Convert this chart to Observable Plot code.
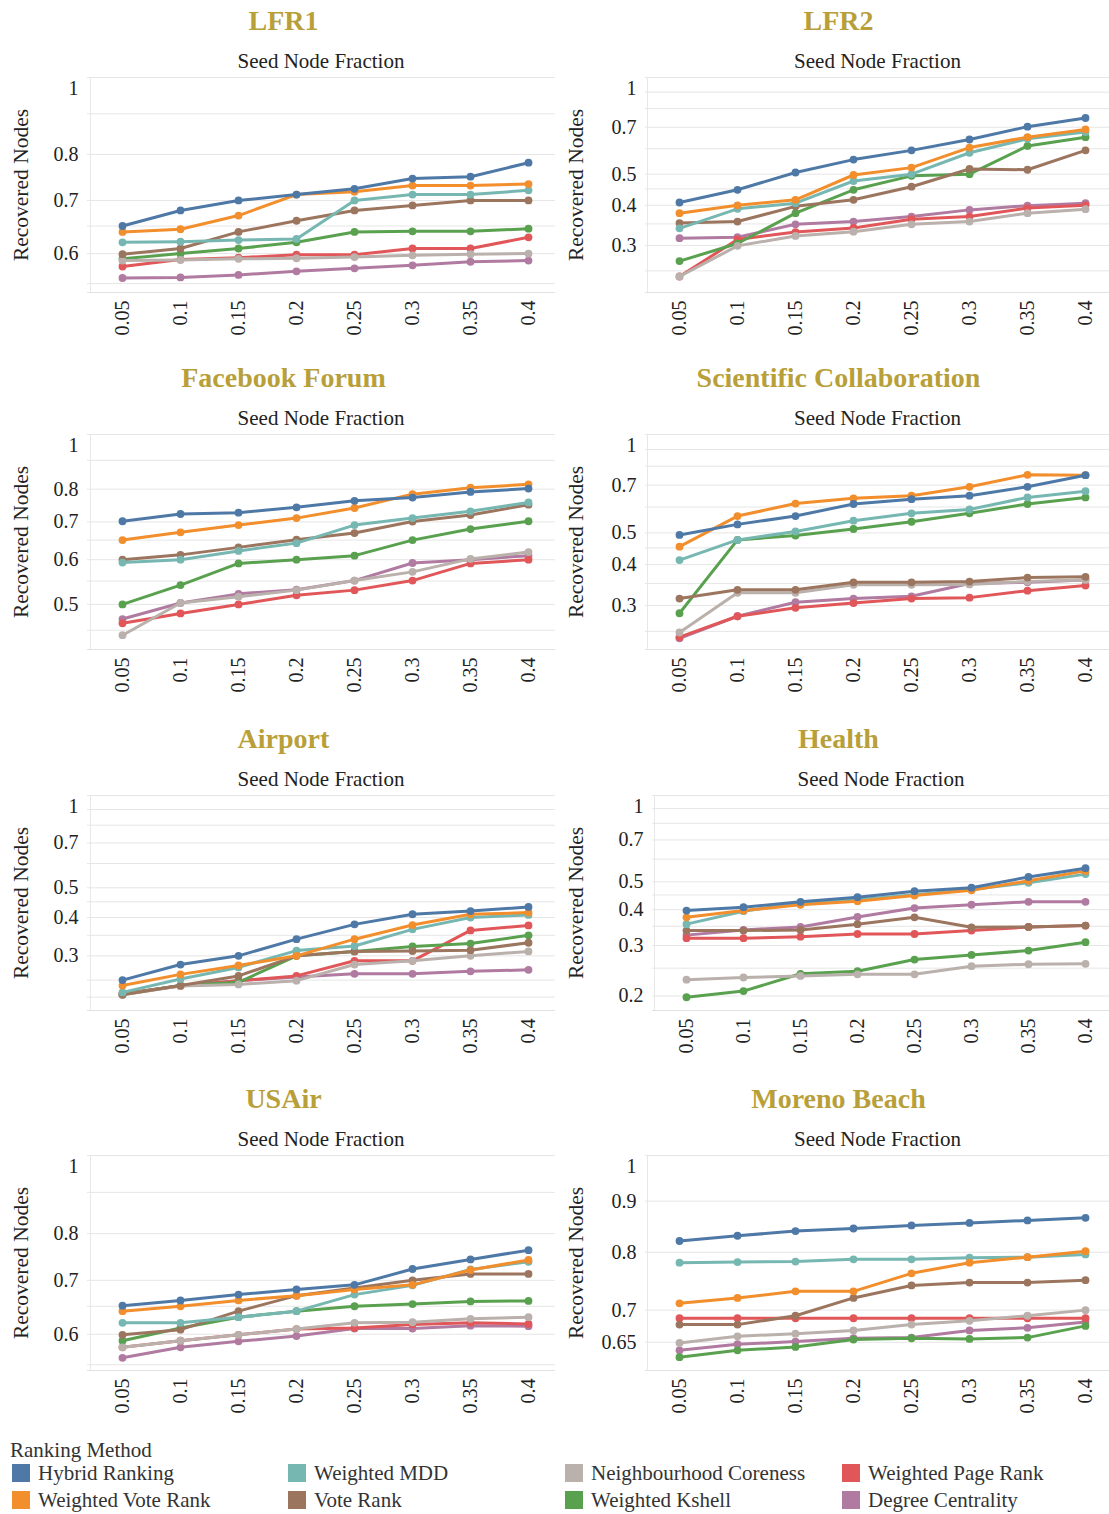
<!DOCTYPE html>
<html>
<head>
<meta charset="utf-8">
<script src="https://cdn.jsdelivr.net/npm/d3@7"></script>
<script src="https://cdn.jsdelivr.net/npm/@observablehq/plot@0.6"></script>
<style>
  body { margin: 0; background: #fff; font-family: "Liberation Serif", "Times New Roman", serif; }
  #root { position: relative; width: 1109px; height: 1514px; overflow: hidden; background: #fff; }
  .panel { position: absolute; width: 555px; height: 350px; }
  .panel svg { position: absolute; left: 0; top: 0; }
  .panel svg text { font-family: "Liberation Serif", "Times New Roman", serif !important; }
  .title { position: absolute; top: 7px; left: 6px; width: 555px; text-align: center; font-weight: bold;
           font-size: 28px; line-height: 28px; color: #b89f3a; white-space: nowrap; }
  .sub { position: absolute; top: 51px; text-align: center; font-size: 21px; line-height: 20px; color: #222; white-space: nowrap; }
  #legend { position: absolute; left: 0; top: 1436px; width: 1109px; height: 78px; }
  .lgtitle { position: absolute; left: 10px; top: 2px; font-size: 21px; color: #333; }
  .item { position: absolute; font-size: 21px; color: #333; white-space: nowrap; }
  .sw { position: absolute; width: 18px; height: 18px; left: 0; top: 2px; }
  .lab { position: absolute; left: 26px; top: 0; line-height: 22px; }
</style>
</head>
<body>
<div id="root"></div>
<script>
const seedFractions = ["0.05", "0.1", "0.15", "0.2", "0.25", "0.3", "0.35", "0.4"];
const methods = ["Hybrid Ranking", "Weighted Vote Rank", "Weighted MDD", "Vote Rank",
                 "Neighbourhood Coreness", "Weighted Kshell", "Weighted Page Rank", "Degree Centrality"];
const methodColors = ["#4e79a7", "#f28e2b", "#76b7b2", "#9c755f", "#bab0ac", "#59a14f", "#e15759", "#b07aa1"];

// values per method (same order as `methods`), per seed fraction
const LFR1 = [
  [0.650, 0.680, 0.700, 0.712, 0.724, 0.746, 0.750, 0.781],
  [0.639, 0.644, 0.670, 0.712, 0.718, 0.731, 0.731, 0.734],
  [0.620, 0.621, 0.624, 0.626, 0.700, 0.712, 0.712, 0.721],
  [0.599, 0.609, 0.639, 0.660, 0.680, 0.690, 0.700, 0.700],
  [0.588, 0.589, 0.591, 0.592, 0.594, 0.597, 0.599, 0.600],
  [0.591, 0.600, 0.609, 0.620, 0.639, 0.640, 0.640, 0.645],
  [0.578, 0.590, 0.593, 0.598, 0.598, 0.609, 0.609, 0.629],
  [0.559, 0.560, 0.564, 0.570, 0.575, 0.580, 0.586, 0.588]
];
const LFR2 = [
  [0.408, 0.447, 0.506, 0.555, 0.593, 0.641, 0.703, 0.748],
  [0.378, 0.400, 0.416, 0.497, 0.524, 0.605, 0.652, 0.689],
  [0.339, 0.390, 0.406, 0.476, 0.500, 0.583, 0.644, 0.676],
  [0.352, 0.356, 0.397, 0.416, 0.457, 0.519, 0.516, 0.593],
  [0.240, 0.299, 0.321, 0.331, 0.349, 0.356, 0.378, 0.389],
  [0.268, 0.304, 0.378, 0.447, 0.494, 0.500, 0.612, 0.652],
  [0.240, 0.313, 0.330, 0.340, 0.362, 0.369, 0.392, 0.400],
  [0.316, 0.318, 0.349, 0.356, 0.369, 0.387, 0.399, 0.406]
];
const FACEBOOK = [
  [0.702, 0.723, 0.727, 0.743, 0.763, 0.773, 0.791, 0.802],
  [0.650, 0.671, 0.691, 0.711, 0.741, 0.784, 0.805, 0.816],
  [0.593, 0.600, 0.622, 0.642, 0.691, 0.711, 0.731, 0.758],
  [0.600, 0.612, 0.631, 0.651, 0.669, 0.701, 0.720, 0.751],
  [0.441, 0.503, 0.516, 0.530, 0.551, 0.571, 0.602, 0.619],
  [0.500, 0.541, 0.591, 0.600, 0.610, 0.650, 0.680, 0.702],
  [0.463, 0.482, 0.500, 0.519, 0.530, 0.551, 0.591, 0.600],
  [0.471, 0.503, 0.522, 0.531, 0.551, 0.592, 0.600, 0.610]
];
const SCICOLLAB = [
  [0.493, 0.531, 0.563, 0.613, 0.634, 0.650, 0.692, 0.751],
  [0.454, 0.563, 0.615, 0.638, 0.650, 0.692, 0.753, 0.751],
  [0.413, 0.476, 0.505, 0.545, 0.574, 0.590, 0.642, 0.671],
  [0.315, 0.335, 0.335, 0.353, 0.353, 0.355, 0.365, 0.367],
  [0.248, 0.328, 0.328, 0.347, 0.347, 0.348, 0.355, 0.359],
  [0.284, 0.476, 0.491, 0.514, 0.541, 0.574, 0.613, 0.642],
  [0.240, 0.278, 0.295, 0.305, 0.315, 0.317, 0.333, 0.345],
  [0.238, 0.278, 0.307, 0.315, 0.320, 0.350, 0.353, 0.359]
];
const AIRPORT = [
  [0.250, 0.281, 0.300, 0.340, 0.380, 0.410, 0.420, 0.433],
  [0.240, 0.261, 0.279, 0.300, 0.340, 0.378, 0.410, 0.415],
  [0.228, 0.252, 0.275, 0.312, 0.323, 0.366, 0.400, 0.408],
  [0.224, 0.240, 0.258, 0.300, 0.310, 0.311, 0.313, 0.331],
  [0.224, 0.239, 0.242, 0.249, 0.281, 0.289, 0.300, 0.310],
  [0.225, 0.240, 0.246, 0.300, 0.310, 0.322, 0.329, 0.350],
  [0.226, 0.239, 0.249, 0.258, 0.289, 0.289, 0.363, 0.377],
  [0.225, 0.240, 0.249, 0.256, 0.262, 0.262, 0.267, 0.270]
];
const HEALTH = [
  [0.397, 0.408, 0.426, 0.442, 0.464, 0.477, 0.520, 0.558],
  [0.376, 0.397, 0.416, 0.428, 0.448, 0.467, 0.504, 0.546],
  [0.356, 0.395, 0.422, 0.433, 0.451, 0.470, 0.496, 0.532],
  [0.338, 0.338, 0.340, 0.356, 0.376, 0.347, 0.348, 0.352],
  [0.228, 0.232, 0.235, 0.238, 0.238, 0.254, 0.258, 0.259],
  [0.198, 0.208, 0.239, 0.244, 0.268, 0.278, 0.288, 0.308],
  [0.318, 0.318, 0.322, 0.329, 0.329, 0.338, 0.348, 0.352],
  [0.326, 0.340, 0.348, 0.377, 0.405, 0.416, 0.426, 0.426]
];
const USAIR = [
  [0.651, 0.661, 0.672, 0.682, 0.691, 0.723, 0.743, 0.763],
  [0.641, 0.650, 0.661, 0.670, 0.682, 0.691, 0.721, 0.742],
  [0.620, 0.620, 0.630, 0.641, 0.672, 0.690, 0.722, 0.738],
  [0.599, 0.608, 0.641, 0.670, 0.685, 0.700, 0.713, 0.713],
  [0.578, 0.589, 0.599, 0.609, 0.620, 0.621, 0.627, 0.630],
  [0.589, 0.611, 0.630, 0.641, 0.650, 0.654, 0.659, 0.660],
  [0.578, 0.589, 0.599, 0.609, 0.611, 0.617, 0.620, 0.618],
  [0.561, 0.578, 0.588, 0.597, 0.610, 0.610, 0.615, 0.614]
];
const MORENO = [
  [0.821, 0.831, 0.840, 0.845, 0.851, 0.856, 0.861, 0.866],
  [0.711, 0.720, 0.731, 0.731, 0.762, 0.781, 0.791, 0.802],
  [0.781, 0.782, 0.783, 0.787, 0.787, 0.790, 0.791, 0.796],
  [0.677, 0.677, 0.691, 0.720, 0.741, 0.746, 0.746, 0.750],
  [0.649, 0.659, 0.663, 0.668, 0.677, 0.683, 0.691, 0.700],
  [0.628, 0.638, 0.643, 0.654, 0.656, 0.655, 0.657, 0.675],
  [0.687, 0.687, 0.687, 0.687, 0.687, 0.687, 0.687, 0.687],
  [0.638, 0.647, 0.651, 0.656, 0.657, 0.668, 0.672, 0.681]
];

const panelTitles = ["LFR1", "LFR2", "Facebook Forum", "Scientific Collaboration", "Airport", "Health", "USAir", "Moreno Beach"];
const panelValues = [LFR1, LFR2, FACEBOOK, SCICOLLAB, AIRPORT, HEALTH, USAIR, MORENO];
const panelYMin = [0.536, 0.214, 0.416, 0.220, 0.199, 0.178, 0.541, 0.609];
const panelYTicks = [
  [0.6, 0.7, 0.8, 1],
  [0.3, 0.4, 0.5, 0.7, 1],
  [0.5, 0.6, 0.7, 0.8, 1],
  [0.3, 0.4, 0.5, 0.7, 1],
  [0.3, 0.4, 0.5, 0.7, 1],
  [0.2, 0.3, 0.4, 0.5, 0.7, 1],
  [0.6, 0.7, 0.8, 1],
  [0.65, 0.7, 0.8, 0.9, 1]
];
const panelGrid = [
  [0.55, 0.6, 0.65, 0.7, 0.8, 0.9, 1],
  [0.25, 0.3, 0.35, 0.4, 0.45, 0.5, 0.6, 0.7, 0.8, 0.9, 1],
  [0.45, 0.5, 0.55, 0.6, 0.65, 0.7, 0.8, 0.9, 1],
  [0.25, 0.3, 0.35, 0.4, 0.45, 0.5, 0.6, 0.7, 0.8, 0.9, 1],
  [0.22, 0.25, 0.3, 0.35, 0.4, 0.45, 0.5, 0.6, 0.7, 0.8, 0.9, 1],
  [0.2, 0.25, 0.3, 0.35, 0.4, 0.45, 0.5, 0.6, 0.7, 0.8, 0.9, 1],
  [0.55, 0.6, 0.65, 0.7, 0.8, 0.9, 1],
  [0.65, 0.7, 0.8, 0.9, 1]
];

const rowTops = [0, 357, 718, 1078];
const serif = "Liberation Serif, Times New Roman, serif";
const root = document.getElementById("root");

panelTitles.forEach((name, i) => {
  const row = Math.floor(i / 2), col = i % 2;
  const ml = (i === 5) ? 97 : (col === 0 ? 87 : 90);
  const panel = document.createElement("div");
  panel.className = "panel";
  panel.style.left = (col * 555) + "px";
  panel.style.top = rowTops[row] + "px";

  const vals = panelValues[i];
  const ticks = panelYTicks[i];
  const marks = [
    Plot.gridY(panelGrid[i], {stroke: "#e6e6e6", strokeOpacity: 1, strokeWidth: 1}),
    Plot.ruleY([panelYMin[i]], {stroke: "#e2e2e2"}),
    Plot.ruleX([seedFractions[0]], {stroke: "#e8e8e8", dx: -32}),
    Plot.text(ticks.filter(d => d !== 1), {y: d => d, text: d => String(d), frameAnchor: "left",
      textAnchor: "end", dx: -9, fontSize: 20, fill: "#222"}),
    Plot.text([1], {y: d => d, text: d => String(d), frameAnchor: "left",
      textAnchor: "end", dx: -9, dy: 11, fontSize: 20, fill: "#222"}),
    Plot.text(["Recovered Nodes"], {text: d => d, frameAnchor: "left", textAnchor: "middle", rotate: -90,
      dx: -(ml - 21), fontSize: 21.5, fill: "#222"}),
    Plot.axisX({tickRotate: -90, tickSize: 0, tickPadding: 8, label: null, fill: "#222", fontSize: 20})
  ];
  for (let m = methods.length - 1; m >= 0; m--) {
    const series = seedFractions.map((x, k) => ({x, y: vals[m][k], method: methods[m]}));
    marks.push(Plot.line(series, {x: "x", y: "y", stroke: "method", strokeWidth: 3, strokeLinejoin: "round"}));
    marks.push(Plot.dot(series, {x: "x", y: "y", fill: "method", r: 3.9}));
  }

  const chart = Plot.plot({
    width: 555, height: 350,
    marginTop: 77, marginBottom: 58, marginLeft: ml, marginRight: 0,
    style: {fontFamily: serif, fontSize: "20px", color: "#222", background: "transparent"},
    x: {type: "point", domain: seedFractions, padding: 0, insetLeft: 32, insetRight: 24},
    y: {type: "log", domain: [panelYMin[i], 1], axis: null},
    color: {domain: methods, range: methodColors},
    marks
  });
  panel.appendChild(chart);

  const t = document.createElement("div");
  t.className = "title";
  t.textContent = name;
  panel.appendChild(t);

  const s = document.createElement("div");
  s.className = "sub";
  s.textContent = "Seed Node Fraction";
  s.style.left = ml + "px";
  s.style.width = (555 - ml) + "px";
  panel.appendChild(s);

  root.appendChild(panel);
});

// legend
const legend = document.createElement("div");
legend.id = "legend";
const lt = document.createElement("div");
lt.className = "lgtitle";
lt.textContent = "Ranking Method";
legend.appendChild(lt);
const legendColX = [12, 288, 565, 842];
const legendRowY = [26, 53];
methods.forEach((m, k) => {
  const col = Math.floor(k / 2), r = k % 2;
  const it = document.createElement("div");
  it.className = "item";
  it.style.left = legendColX[col] + "px";
  it.style.top = legendRowY[r] + "px";
  const sw = document.createElement("div");
  sw.className = "sw";
  sw.style.background = methodColors[k];
  const lb = document.createElement("div");
  lb.className = "lab";
  lb.textContent = m;
  it.appendChild(sw);
  it.appendChild(lb);
  legend.appendChild(it);
});
root.appendChild(legend);
</script>
</body>
</html>
